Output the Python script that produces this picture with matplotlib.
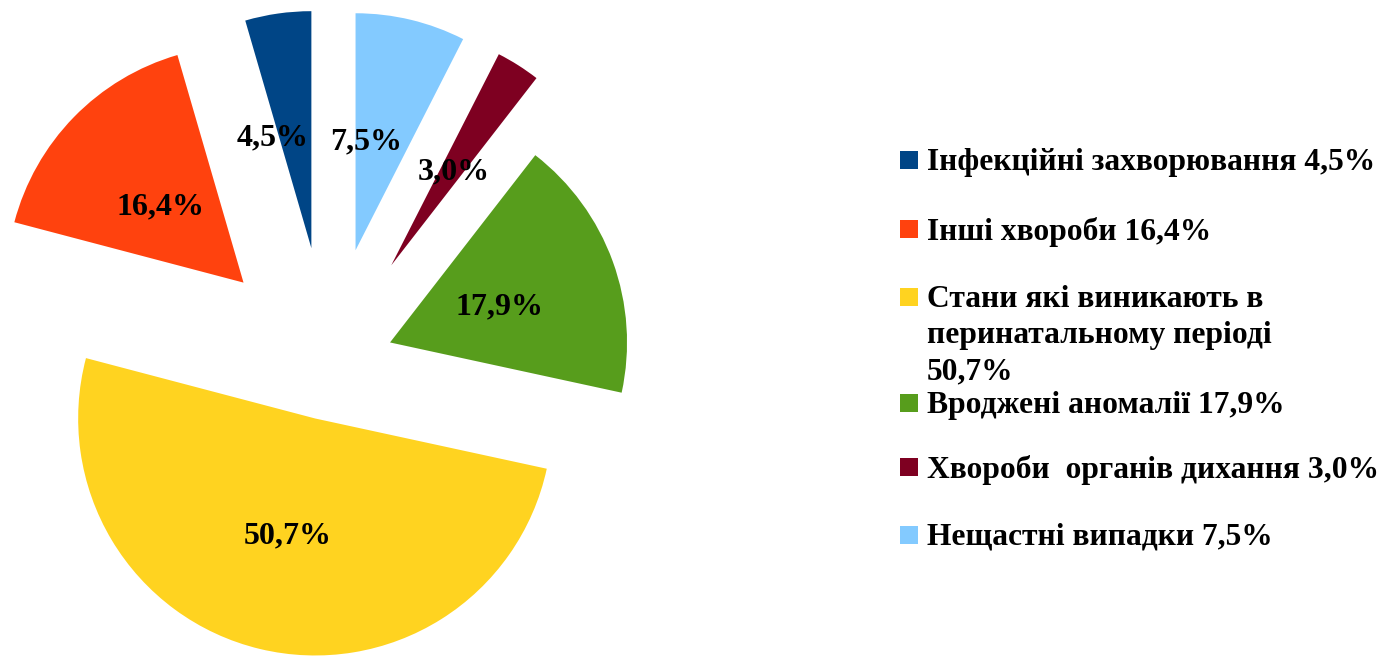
import matplotlib
matplotlib.use("Agg")
import matplotlib.pyplot as plt
from matplotlib.patches import Rectangle

categories = [
    "Інфекційні захворювання 4,5%",
    "Інші хвороби 16,4%",
    "Стани які виникають в\nперинатальному періоді\n50,7%",
    "Вроджені аномалії 17,9%",
    "Хвороби  органів дихання 3,0%",
    "Нещастні випадки 7,5%",
]
values = [4.5, 16.4, 50.7, 17.9, 3.0, 7.5]
colors = ["#004586", "#ff420e", "#ffd320", "#579d1c", "#7e0021", "#83caff"]

W, H = 1388, 656
fig = plt.figure(figsize=(W / 100, H / 100), dpi=100)
ax = fig.add_axes([0, 0, 1, 1])

R = 237
explode = [118, 118, 55, 66, 118, 118]
label_nudge = [(-22, -5), (0, -5), (0, -5), (0, -4), (0, -5), (-17, -5)]

font = dict(family="Liberation Serif", weight="bold")

wedges, texts, autotexts = ax.pie(
    values, colors=colors, startangle=90, counterclock=True,
    radius=R, center=(328, H - 365), explode=explode,
    autopct=lambda p: f"{p:.1f}".replace(".", ",") + "%",
    pctdistance=0.49,
    textprops=dict(fontsize=23, color="black", **font),
    wedgeprops=dict(linewidth=0),
)
for t, (dx, dy) in zip(autotexts, label_nudge):
    x, y = t.get_position()
    t.set_position((x + dx, y + dy))

ax.set_xlim(0, W)
ax.set_ylim(0, H)
ax.set_aspect("equal")
ax.axis("off")

# legend (handles aligned to the first text line, as in the original)
leg_y = [160, 229, 297, 403, 467, 535]
for c, lab, yy in zip(colors, categories, leg_y):
    ax.add_patch(Rectangle((900, H - yy - 9), 18, 18, color=c, lw=0))
    ax.text(927, H - yy + 12, lab, ha="left", va="top", fontsize=22.7,
            linespacing=1.33, **font)

fig.savefig("out.png", dpi=100)
